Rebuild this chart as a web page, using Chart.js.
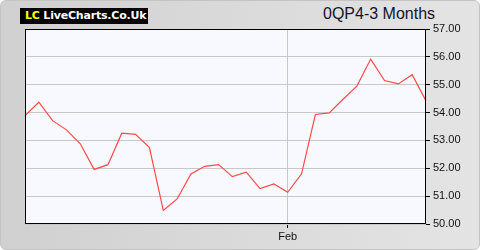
<!DOCTYPE html>
<html>
<head>
<meta charset="utf-8">
<script src="https://cdn.jsdelivr.net/npm/chart.js@4"></script>
<style>
html,body{margin:0;padding:0;background:#fff;}
#frame{position:absolute;left:0;top:0;width:478px;height:248px;border:1px solid #c4c4c4;border-radius:6px;
  background:linear-gradient(to right,#d0d0d0,#e4e4e4);overflow:hidden;}
#logo{position:absolute;left:20px;top:8px;width:128px;height:16px;background:#000;color:#fff;
  font:bold 11px "DejaVu Sans",sans-serif;line-height:16px;white-space:nowrap;letter-spacing:-0.2px;overflow:hidden;}
#logo .lc{color:#ffff00;margin-left:5px;}
#title{position:absolute;left:323px;top:5px;font:16px "Liberation Sans",Arial,sans-serif;color:#141428;white-space:nowrap;}
canvas{position:absolute;left:0;top:0;}
</style>
</head>
<body>
<div id="frame"></div>
<div id="logo"><span class="lc">LC</span> LiveCharts.Co.Uk</div>
<div id="title">0QP4-3 Months</div>
<canvas id="c" width="480" height="250"></canvas>
<script>
const categories = ['','','','','','','','','','','','','','','','','','','','Feb','','','','','','','','','',''];
const prices = [53.89, 54.37, 53.71, 53.38, 52.88, 51.96, 52.13, 53.26, 53.22, 52.74,
                50.49, 50.90, 51.80, 52.07, 52.13, 51.70, 51.86, 51.27, 51.44, 51.14,
                51.80, 53.93, 53.99, 54.48, 54.95, 55.92, 55.15, 55.03, 55.36, 54.42];
const yMin = 50, yMax = 57, yStep = 1;

const plotBg = {
  id:'plotBg',
  beforeDraw(chart){
    const {ctx, chartArea:a} = chart;
    ctx.save(); ctx.fillStyle = '#f8f9ff';
    ctx.fillRect(a.left, a.top, a.right-a.left, a.bottom-a.top); ctx.restore();
  },
  afterDraw(chart){
    const {ctx, chartArea:a} = chart;
    ctx.save(); ctx.strokeStyle = '#000'; ctx.lineWidth = 1;
    ctx.strokeRect(Math.round(a.left)+0.5, Math.round(a.top)+0.5, Math.round(a.right-a.left)-1, Math.round(a.bottom-a.top)-1);
    ctx.restore();
  }
};

new Chart(document.getElementById('c'), {
  type:'line',
  data:{ labels: categories, datasets:[{ data: prices, borderColor:'#ff4a4a', borderWidth:1.2, pointRadius:0, tension:0, fill:false }] },
  options:{
    responsive:false, animation:false,
    layout:{ padding:{ left:25, top:29, right:0, bottom:0 } },
    plugins:{ legend:{display:false}, tooltip:{enabled:false} },
    scales:{
      x:{
        offset:false,
        afterFit(s){ s.height = 26; },
        border:{display:false},
        grid:{ color:(c)=> categories[c.index]==='Feb' ? '#c8c8c8' : 'rgba(0,0,0,0)',
               tickColor:(c)=> categories[c.index]==='Feb' ? '#000' : 'rgba(0,0,0,0)',
               tickLength:4, drawTicks:true },
        ticks:{ autoSkip:false, maxRotation:0, padding:2, color:'#111',
                font:{ family:'"Liberation Sans", Arial, sans-serif', size:11 },
                callback:(v,i)=> categories[i] }
      },
      y:{
        position:'right', min:yMin, max:yMax,
        afterFit(s){ s.width = 54; },
        border:{display:false},
        grid:{ color:'#c8c8c8', tickColor:'#000', tickLength:4 },
        ticks:{ stepSize:yStep, padding:3, color:'#111',
                font:{ family:'"Liberation Sans", Arial, sans-serif', size:11 },
                callback:(v)=> Number(v).toFixed(2) }
      }
    }
  },
  plugins:[plotBg]
});
</script>
</body>
</html>
